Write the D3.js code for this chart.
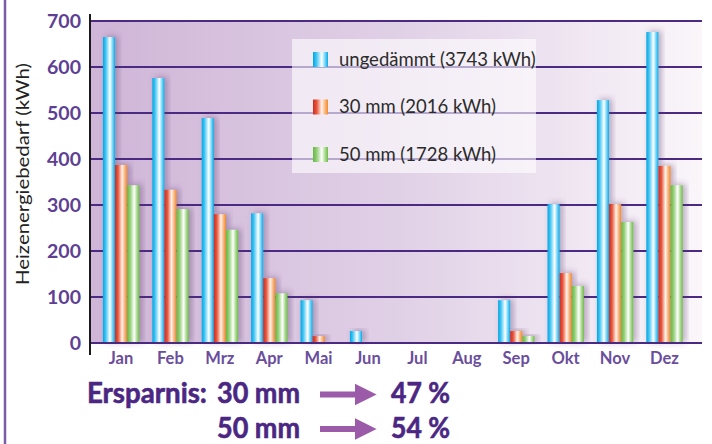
<!DOCTYPE html>
<html>
<head>
<meta charset="utf-8">
<script src="https://cdn.jsdelivr.net/npm/d3@7"></script>
<style>
  body { margin: 0; background: #fff; }
  svg { display: block; }
</style>
</head>
<body>
<svg id="chart" width="712" height="444"></svg>
<script>
// data
const months = ["Jan", "Feb", "Mrz", "Apr", "Mai", "Jun", "Jul", "Aug", "Sep", "Okt", "Nov", "Dez"];
const ungedaemmt = [665, 576, 489, 282, 93, 26, 0, 0, 93, 302, 528, 676];
const mm30 = [387, 333, 280, 141, 15, 0, 0, 0, 26, 152, 302, 385];
const mm50 = [343, 291, 246, 108, 0, 0, 0, 0, 15, 124, 263, 343];
const seriesNames = ["ungedämmt (3743 kWh)", "30 mm (2016 kWh)", "50 mm (1728 kWh)"];
const yTicks = [0, 100, 200, 300, 400, 500, 600, 700];
const savingLabels = ["30 mm", "50 mm"];
const savingPercents = ["47 %", "54 %"];

const series = [ungedaemmt, mm30, mm50];

let svg = d3.select("#chart");
let defs = svg.append("defs");

const plot = { left: 90, right: 702, top: 21, bottom: 343 };

// scales
let y = d3.scaleLinear().domain([0, 700]).range([plot.bottom, plot.top]);
let x = d3.scaleBand().domain(months).range([96.3, 689.1]).padding(0);
let xInner = d3.scaleBand().domain([0, 1, 2]).range([6.6, 43]).padding(0);

// background gradient
let bg = defs.append("linearGradient").attr("id", "bg").attr("x1", 0).attr("x2", 1).attr("y1", 0).attr("y2", 0);
bg.append("stop").attr("offset", "0%").attr("stop-color", "#cfb5d7");
bg.append("stop").attr("offset", "50%").attr("stop-color", "#e0d0e6");
bg.append("stop").attr("offset", "100%").attr("stop-color", "#faf6fa");

// bar gradients
const barStops = [
  [["0%", "#00a6e6"], ["22%", "#3cc4f2"], ["58%", "#ffffff"], ["82%", "#6cd2f6"], ["100%", "#00acec"]],
  [["0%", "#cf2a22"], ["25%", "#e8583c"], ["58%", "#fff3ea"], ["82%", "#f8b27a"], ["100%", "#f48a22"]],
  [["0%", "#66b843"], ["25%", "#94cf78"], ["58%", "#ffffff"], ["82%", "#a6d88c"], ["100%", "#6cbd45"]]
];
barStops.forEach(function (stops, i) {
  let g = defs.append("linearGradient").attr("id", "bar" + i)
    .attr("x1", 0).attr("x2", 1).attr("y1", 0).attr("y2", 0);
  stops.forEach(function (s) {
    g.append("stop").attr("offset", s[0]).attr("stop-color", s[1]);
  });
});

let shadow = defs.append("filter").attr("id", "shadow")
  .attr("x", "-50%").attr("y", "-20%").attr("width", "200%").attr("height", "140%");
shadow.append("feDropShadow").attr("dx", 3).attr("dy", -1).attr("stdDeviation", 3)
  .attr("flood-color", "#5a3a6a").attr("flood-opacity", 0.4);

let arrowHead = defs.append("marker").attr("id", "arrow")
  .attr("viewBox", "0 0 10 10").attr("refX", 0).attr("refY", 5)
  .attr("markerWidth", 3.6).attr("markerHeight", 3.8)
  .attr("markerUnits", "strokeWidth").attr("orient", "auto");
arrowHead.append("path").attr("d", "M0,0 L10,5 L0,10 Z").attr("fill", "#9b5ba8");

// left frame line
svg.append("line").attr("x1", 5).attr("x2", 5).attr("y1", 0).attr("y2", 444)
  .attr("stroke", "#7b5ca6").attr("stroke-width", 2.5);

// plot background
svg.append("rect")
  .attr("x", plot.left).attr("y", plot.top)
  .attr("width", plot.right - plot.left).attr("height", plot.bottom - plot.top)
  .attr("fill", "url(#bg)");

// grid lines
svg.append("g").selectAll("line").data(yTicks).join("line")
  .attr("x1", plot.left).attr("x2", plot.right)
  .attr("y1", d => y(d)).attr("y2", d => y(d))
  .attr("stroke", "#4a2a82").attr("stroke-width", 2);

// legend box (translucent, grid shows through)
svg.append("rect").attr("x", 292).attr("y", 39).attr("width", 244).attr("height", 134)
  .attr("fill", "#ffffff").attr("fill-opacity", 0.6);

// bars
let groups = svg.append("g").selectAll("g").data(months).join("g")
  .attr("transform", d => `translate(${x(d)},0)`);

groups.selectAll("rect")
  .data((m, mi) => series.map((s, si) => ({ si: si, v: s[mi] })).filter(d => d.v > 0))
  .join("rect")
  .attr("x", d => xInner(d.si))
  .attr("width", xInner.bandwidth())
  .attr("y", d => y(d.v))
  .attr("height", d => y(0) - y(d.v))
  .attr("fill", d => `url(#bar${d.si})`)
  .attr("filter", "url(#shadow)");

// redraw zero line over bars
svg.append("line").attr("x1", plot.left).attr("x2", plot.right)
  .attr("y1", y(0)).attr("y2", y(0))
  .attr("stroke", "#4a2a82").attr("stroke-width", 2);

// y axis line
svg.append("line").attr("x1", 90).attr("x2", 90).attr("y1", 14).attr("y2", 355)
  .attr("stroke", "#1a1a1a").attr("stroke-width", 2);

// y tick labels
svg.append("g").selectAll("text").data(yTicks).join("text")
  .attr("x", 81).attr("y", d => y(d))
  .attr("dy", "0.36em")
  .attr("text-anchor", "end")
  .attr("font-family", "Lato")
  .attr("font-weight", "bold")
  .attr("font-size", 19.5)
  .attr("fill", "#5e3f94")
  .text(d => d);

// x labels
svg.append("g").selectAll("text").data(months).join("text")
  .attr("x", d => x(d) + x.bandwidth() / 2)
  .attr("y", 364)
  .attr("text-anchor", "middle")
  .attr("font-family", "Lato")
  .attr("font-weight", "bold")
  .attr("font-size", 16.5)
  .attr("fill", "#6a4e9c")
  .text(d => d);

// y axis title
svg.append("text")
  .attr("transform", "translate(29,174) rotate(-90)")
  .attr("text-anchor", "middle")
  .attr("font-family", "Lato")
  .attr("font-size", 17.5)
  .attr("textLength", 222)
  .attr("lengthAdjust", "spacingAndGlyphs")
  .attr("fill", "#222")
  .text("Heizenergiebedarf (kWh)");

// legend
let legend = svg.append("g").selectAll("g").data(seriesNames).join("g")
  .attr("transform", (d, i) => `translate(313,${52 + i * 47.5})`);
legend.append("rect").attr("width", 15).attr("height", 15)
  .attr("fill", (d, i) => `url(#bar${i})`);
legend.append("text").attr("x", 26).attr("y", 13.5)
  .attr("font-family", "Lato").attr("font-size", 18.5).attr("fill", "#2b2b2b")
  .text(d => d);

// savings text
let savings = svg.append("g").attr("font-family", "Lato").attr("font-weight", "bold")
  .attr("font-size", 28).attr("fill", "#4b2783")
  .attr("stroke", "#4b2783").attr("stroke-width", 0.6);
savings.append("text").attr("x", 87).attr("y", 403)
  .attr("textLength", 120).attr("lengthAdjust", "spacingAndGlyphs")
  .text("Ersparnis:");
savingLabels.forEach(function (label, i) {
  let yy = 403 + i * 34.5;
  savings.append("text").attr("x", 217).attr("y", yy)
    .attr("textLength", 83).attr("lengthAdjust", "spacingAndGlyphs").text(label);
  savings.append("text").attr("x", 391).attr("y", yy)
    .attr("textLength", 59).attr("lengthAdjust", "spacingAndGlyphs").text(savingPercents[i]);
  svg.append("line").attr("x1", 320).attr("x2", 355)
    .attr("y1", yy - 8.5).attr("y2", yy - 8.5)
    .attr("stroke", "#9b5ba8").attr("stroke-width", 6)
    .attr("marker-end", "url(#arrow)");
});
</script>
</body>
</html>
